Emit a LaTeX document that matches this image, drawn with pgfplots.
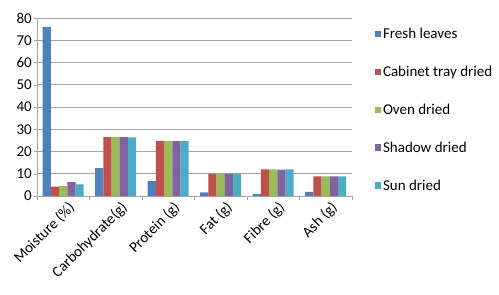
\documentclass[border=0pt]{standalone}
\usepackage{pgfplots}
\pgfplotsset{compat=1.18}
\usepackage{fontspec}
\setmainfont{Carlito}
\definecolor{c1}{HTML}{4F81BD}
\definecolor{c2}{HTML}{C0504D}
\definecolor{c3}{HTML}{9BBB59}
\definecolor{c4}{HTML}{8064A2}
\definecolor{c5}{HTML}{4BACC6}
\definecolor{gridc}{HTML}{A6A6A6}
\begin{document}
\begin{tikzpicture}
\useasboundingbox (0,0) rectangle (499pt,295pt);
\begin{axis}[
  at={(37pt,99pt)}, anchor=south west,
  scale only axis, width=315pt, height=178pt,
  ybar=0pt, bar width=8.2pt,
  xmin=-0.5, xmax=5.5, ymin=0, ymax=80,
  ytick={0,10,...,80},
  xtick=data,
  xticklabels={Moisture (\%),Carbohydrate(g),Protein (g),Fat (g),Fibre (g),Ash (g)},
  minor xtick={-0.5,0.5,...,5.5},
  major x tick style={draw=none},
  minor x tick style={gridc},
  minor tick length=4pt,
  major tick length=3pt,
  y tick style={gridc},
  tick align=outside, tick pos=left,
  axis x line*=bottom, axis y line*=left,
  axis line style={gridc},
  ymajorgrids, grid style={gridc, line width=0.9pt},
  xticklabel style={rotate=45, anchor=north east, inner sep=1pt, font=\fontsize{15}{17}\selectfont, yshift=-3pt, xshift=3pt},
  yticklabel style={font=\fontsize{15}{17}\selectfont, inner sep=2pt},
  /pgf/number format/assume math mode=true,
  legend style={at={(1.071,0.955)}, anchor=north west, draw=none, fill=none,
    font=\fontsize{15}{17}\selectfont, row sep=22pt, inner sep=0pt},
  legend cell align=left,
  legend image code/.code={\fill[#1] (0pt,-3pt) rectangle (6.5pt,3.5pt);},
]
\addplot[fill=c1, draw=none] coordinates {(0,76) (1,12.5) (2,6.7) (3,1.6) (4,0.8) (5,1.8)};
\addplot[fill=c2, draw=none] coordinates {(0,4.2) (1,26.5) (2,24.7) (3,10) (4,12) (5,8.8)};
\addplot[fill=c3, draw=none] coordinates {(0,4.4) (1,26.5) (2,24.7) (3,10) (4,12) (5,8.8)};
\addplot[fill=c4, draw=none] coordinates {(0,6.2) (1,26.5) (2,24.7) (3,10) (4,11.8) (5,8.8)};
\addplot[fill=c5, draw=none] coordinates {(0,5.2) (1,26.4) (2,24.7) (3,10) (4,12) (5,8.8)};
\legend{Fresh leaves,Cabinet tray dried,Oven dried,Shadow dried,Sun dried}
\end{axis}
\end{tikzpicture}
\end{document}
